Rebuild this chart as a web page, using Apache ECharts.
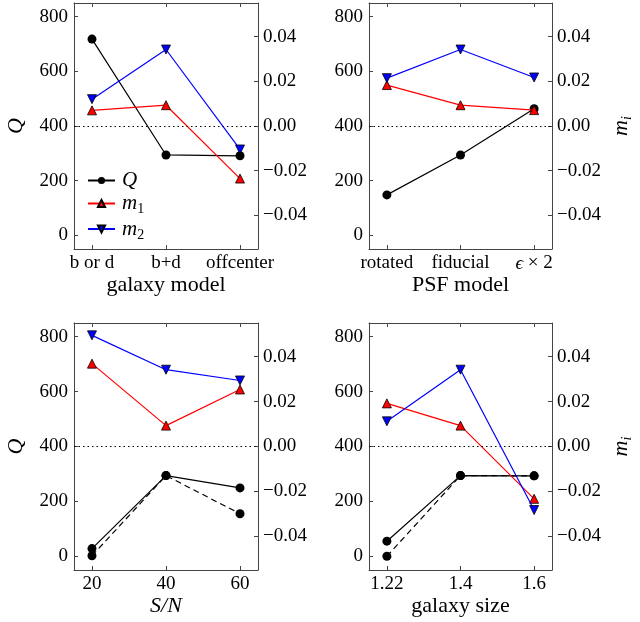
<!DOCTYPE html>
<html>
<head>
<meta charset="utf-8">
<script src="https://cdn.jsdelivr.net/npm/echarts@6/dist/echarts.min.js"></script>
<style>
html,body{margin:0;padding:0;background:#fff;}
#chart{width:640px;height:622px;}
</style>
</head>
<body>
<div id="chart"></div>
<script>
// ---- data ----
const galaxyModelLabels = ['b or d', 'b+d', 'offcenter'];
const psfModelLabels = ['rotated', 'fiducial', 'eps2'];
const snrLabels = ['20', '40', '60'];
const sizeLabels = ['1.22', '1.4', '1.6'];

const galaxyModelQ = [718, 294, 291];
const galaxyModelM1 = [0.0070, 0.0093, -0.0235];
const galaxyModelM2 = [0.0120, 0.0342, -0.0105];

const psfQ = [148, 294, 463];
const psfM1 = [0.0183, 0.0093, 0.0071];
const psfM2 = [0.0214, 0.0342, 0.0217];

const snrQ = [28, 294, 249];
const snrQDashed = [2, 294, 155];
const snrM1 = [0.0369, 0.0093, 0.0254];
const snrM2 = [0.0495, 0.0342, 0.0294];

const sizeQ = [55, 294, 293];
const sizeQDashed = [0, 294, 293];
const sizeM1 = [0.0192, 0.0093, -0.0233];
const sizeM2 = [0.0112, 0.0342, -0.0283];

const qTicks = [0, 200, 400, 600, 800];
const mTicks = [-0.04, -0.02, 0, 0.02, 0.04];
const xTicks = [0, 1, 2];

// ---- style ----
const FONT = 'Liberation Serif';
const TICK_FS = 19;
const NAME_FS = 22;
const FRAME = '#444';

const chart = echarts.init(document.getElementById('chart'));

const grids = [
  {left: 74, top: 3, width: 184, height: 246},
  {left: 369, top: 3, width: 183, height: 246},
  {left: 74, top: 323, width: 184, height: 247},
  {left: 369, top: 323, width: 183, height: 247}
];

const panels = [
  {labels: galaxyModelLabels, xName: 'galaxy model', q: galaxyModelQ, qd: null, m1: galaxyModelM1, m2: galaxyModelM2, qName: true, mName: false},
  {labels: psfModelLabels, xName: 'PSF model', q: psfQ, qd: null, m1: psfM1, m2: psfM2, qName: false, mName: true},
  {labels: snrLabels, xName: '{it|S/N}', q: snrQ, qd: snrQDashed, m1: snrM1, m2: snrM2, qName: true, mName: false},
  {labels: sizeLabels, xName: 'galaxy size', q: sizeQ, qd: sizeQDashed, m1: sizeM1, m2: sizeM2, qName: false, mName: true}
];

const richBase = {
  it: {fontFamily: FONT, fontStyle: 'italic', fontSize: NAME_FS, color: '#000'}
};

const xAxes = [], yAxes = [], series = [];
const tickStyle = {show: true, inside: true, length: 4, lineStyle: {color: FRAME, width: 1}};
const frameLine = {show: true, onZero: false, lineStyle: {color: FRAME, width: 1}};

panels.forEach((p, g) => {
  const labels = p.labels;
  xAxes.push({
    type: 'value', gridIndex: g, position: 'bottom', min: -0.243, max: 2.243,
    axisLine: frameLine, splitLine: {show: false},
    axisTick: Object.assign({customValues: xTicks}, tickStyle),
    axisLabel: {
      customValues: xTicks, margin: 5, color: '#000', fontFamily: FONT, fontSize: TICK_FS,
      formatter: v => {
        const s = labels[Math.round(v)];
        return s === 'eps2' ? '{e|\u03f5} \u00d7 2' : s;
      },
      rich: {e: {fontFamily: FONT, fontStyle: 'italic', fontSize: TICK_FS, color: '#000'}}
    },
    name: p.xName, nameLocation: 'middle', nameGap: 24,
    nameTextStyle: {fontFamily: FONT, fontSize: NAME_FS, color: '#000', rich: richBase}
  });
  xAxes.push({
    type: 'value', gridIndex: g, position: 'top', min: -0.243, max: 2.243,
    axisLine: frameLine, splitLine: {show: false},
    axisTick: Object.assign({customValues: xTicks}, tickStyle),
    axisLabel: {show: false}
  });
  yAxes.push({
    type: 'value', gridIndex: g, position: 'left', min: -50, max: 850,
    axisLine: frameLine, splitLine: {show: false},
    axisTick: Object.assign({customValues: qTicks}, tickStyle),
    axisLabel: {customValues: qTicks, margin: 6, color: '#000', fontFamily: FONT, fontSize: TICK_FS},
    name: p.qName ? 'Q' : '', nameLocation: 'middle', nameGap: 47, nameRotate: 90,
    nameTextStyle: {fontFamily: FONT, fontStyle: 'italic', fontSize: NAME_FS, color: '#000'}
  });
  yAxes.push({
    type: 'value', gridIndex: g, position: 'right', min: -0.055, max: 0.055,
    axisLine: frameLine, splitLine: {show: false},
    axisTick: Object.assign({customValues: mTicks}, tickStyle),
    axisLabel: {
      customValues: mTicks, margin: 5, color: '#000', fontFamily: FONT, fontSize: TICK_FS,
      formatter: v => (v < -1e-9 ? '\u2212' : '') + Math.abs(v).toFixed(2)
    },
    name: p.mName ? '{m|m}{s|i}' : '', nameLocation: 'middle', nameGap: 56, nameRotate: 90,
    nameTextStyle: {
      fontFamily: FONT, fontSize: NAME_FS, color: '#000',
      rich: {
        m: {fontFamily: FONT, fontStyle: 'italic', fontSize: NAME_FS, color: '#000', lineHeight: 26, verticalAlign: 'middle'},
        s: {fontFamily: FONT, fontStyle: 'italic', fontSize: 14, color: '#000', lineHeight: 26, verticalAlign: 'bottom'}
      }
    }
  });
  const xi = g * 2, yl = g * 2, yr = g * 2 + 1;
  const toPts = arr => arr.map((v, i) => [i, v]);
  if (p.qd) {
    series.push({
      name: 'Qd', type: 'line', xAxisIndex: xi, yAxisIndex: yl, data: toPts(p.qd),
      symbol: 'circle', symbolSize: 9, itemStyle: {color: '#000'},
      lineStyle: {color: '#000', width: 1.2, type: [6, 4]}, z: 2, animation: false
    });
  }
  series.push({
    name: 'Q', type: 'line', xAxisIndex: xi, yAxisIndex: yl, data: toPts(p.q),
    symbol: 'circle', symbolSize: 9, itemStyle: {color: '#000'},
    lineStyle: {color: '#000', width: 1.2}, z: 3, animation: false
  });
  series.push({
    name: 'm1', type: 'line', xAxisIndex: xi, yAxisIndex: yr, data: toPts(p.m1),
    symbol: 'triangle', symbolSize: 9,
    itemStyle: {color: '#ff0000', borderColor: '#000', borderWidth: 0.8},
    lineStyle: {color: '#ff0000', width: 1.2}, z: 4, animation: false,
    markLine: {
      silent: true, symbol: 'none', label: {show: false}, animation: false,
      lineStyle: {color: '#000', width: 1, type: [1.5, 3]},
      data: [{yAxis: 0}]
    }
  });
  series.push({
    name: 'm2', type: 'line', xAxisIndex: xi, yAxisIndex: yr, data: toPts(p.m2),
    symbol: 'triangle', symbolRotate: 180, symbolSize: 9,
    itemStyle: {color: '#0000ff', borderColor: '#000', borderWidth: 0.8},
    lineStyle: {color: '#0000ff', width: 1.2}, z: 5, animation: false
  });
});

const option = {
  animation: false,
  backgroundColor: '#fff',
  xAxis: xAxes,
  yAxis: yAxes,
  grid: grids.map(g => Object.assign({show: false}, g)),
  legend: {
    left: 82, top: 165, orient: 'vertical', itemWidth: 27, itemHeight: 9, itemGap: 2,
    data: ['Q', 'm1', 'm2'],
    formatter: n => n === 'Q' ? '{q|Q}' : '{m|m}{s|' + n.slice(1) + '}',
    textStyle: {
      padding: [0, 0, 0, 2],
      rich: {
        q: {fontFamily: FONT, fontStyle: 'italic', fontSize: 21, color: '#000', lineHeight: 26},
        m: {fontFamily: FONT, fontStyle: 'italic', fontSize: 21, color: '#000', lineHeight: 26, verticalAlign: 'middle'},
        s: {fontFamily: FONT, fontSize: 14, color: '#000', lineHeight: 26, verticalAlign: 'bottom'}
      }
    }
  },
  series: series
};
chart.setOption(option);
</script>
</body>
</html>
